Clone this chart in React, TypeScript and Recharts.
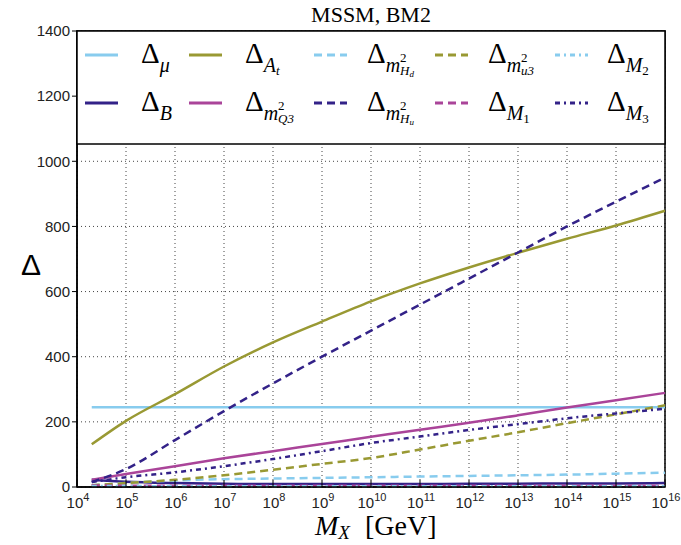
import { LineChart, Line, XAxis, YAxis, CartesianGrid, ReferenceArea } from 'recharts';

// log10(M_X / GeV), first point at 2x10^4
const logMX = [4.301, 5, 6, 7, 8, 9, 10, 11, 12, 13, 14, 15, 16];

const deltaMu = [245, 245, 245, 245, 245, 245, 245, 245, 245, 245, 245, 245, 245];
const deltaB = [22, 16, 12, 10, 9, 9, 9, 9, 10, 10, 11, 11, 12];
const deltaAt = [131, 203, 285, 370, 444, 508, 570, 625, 674, 719, 762, 803, 848];
const deltaQ3 = [22, 40, 64, 88, 110, 132, 154, 176, 197, 220, 244, 266, 289];
const deltaHd = [5, 12, 20, 24, 26, 28, 30, 32, 34, 36, 38, 41, 44];
const deltaHu = [15, 55, 144, 233, 318, 400, 480, 560, 640, 720, 800, 876, 950];
const deltaU3 = [5, 12, 22, 36, 53, 71, 89, 115, 142, 168, 196, 223, 251];
const deltaM1 = [5, 4, 4, 4, 4, 4, 4, 4, 4, 4, 4, 4, 4];
const deltaM2 = [3, 3, 2, 2, 2, 2, 2, 2, 2, 2, 2, 2, 2];
const deltaM3 = [15, 30, 45, 64, 86, 110, 135, 155, 175, 193, 211, 226, 240];

const xTicks = [4, 5, 6, 7, 8, 9, 10, 11, 12, 13, 14, 15, 16];
const yTicks = [0, 200, 400, 600, 800, 1000, 1200, 1400];

const CYAN = '#88CCEE';
const INDIGO = '#332288';
const OLIVE = '#999933';
const PURPLE = '#AA4499';
const DASH = '8 5';
const DASHDOT = '5 4 2 4';

const data = logMX.map((x, i) => ({
  x,
  mu: deltaMu[i],
  B: deltaB[i],
  At: deltaAt[i],
  Q3: deltaQ3[i],
  Hd: deltaHd[i],
  Hu: deltaHu[i],
  u3: deltaU3[i],
  M1: deltaM1[i],
  M2: deltaM2[i],
  M3: deltaM3[i],
}));

const series = [
  { key: 'mu', color: CYAN, dash: undefined },
  { key: 'B', color: INDIGO, dash: undefined },
  { key: 'At', color: OLIVE, dash: undefined },
  { key: 'Q3', color: PURPLE, dash: undefined },
  { key: 'Hd', color: CYAN, dash: DASH },
  { key: 'Hu', color: INDIGO, dash: DASH },
  { key: 'u3', color: OLIVE, dash: DASH },
  { key: 'M1', color: PURPLE, dash: DASH },
  { key: 'M2', color: CYAN, dash: DASHDOT },
  { key: 'M3', color: INDIGO, dash: DASHDOT },
];

const SANS = '"Liberation Sans", Arial, sans-serif';
const SERIF = '"Liberation Serif", "Times New Roman", serif';

function XTick({ x, y, payload }: any) {
  return (
    <g>
      <line x1={x} x2={x} y1={y} y2={y - 7} stroke="#000" />
      <text x={x + 1} y={y + 21} textAnchor="middle" fontFamily={SANS} fontSize={15} fill="#222">
        10
        <tspan dy={-7} fontSize={11}>
          {payload.value}
        </tspan>
      </text>
    </g>
  );
}

// legend labels: Δ followed by italic subscript parts
function simpleSub(main: string, small?: string) {
  return (
    <>
      <tspan dy={9} fontSize={20} fontStyle="italic">{main}</tspan>
      {small ? <tspan dy={3} fontSize={13} fontStyle={/\d/.test(small) ? 'normal' : 'italic'}>{small}</tspan> : null}
    </>
  );
}

function massSub(letter: string, small?: string) {
  return (
    <>
      <tspan dy={9} fontSize={20} fontStyle="italic">m</tspan>
      <tspan dy={-10} fontSize={13}>2</tspan>
      <tspan dx={-6.5} dy={13} fontSize={13} fontStyle="italic">{letter}</tspan>
      {small ? <tspan dy={2} fontSize={9} fontStyle="italic">{small}</tspan> : null}
    </>
  );
}

const legendItems = [
  { color: CYAN, dash: undefined, col: 0, row: 0, sub: simpleSub('μ') },
  { color: INDIGO, dash: undefined, col: 0, row: 1, sub: simpleSub('B') },
  { color: OLIVE, dash: undefined, col: 1, row: 0, sub: simpleSub('A', 't') },
  { color: PURPLE, dash: undefined, col: 1, row: 1, sub: massSub('Q3') },
  { color: CYAN, dash: DASH, col: 2, row: 0, sub: massSub('H', 'd') },
  { color: INDIGO, dash: DASH, col: 2, row: 1, sub: massSub('H', 'u') },
  { color: OLIVE, dash: DASH, col: 3, row: 0, sub: massSub('u3') },
  { color: PURPLE, dash: DASH, col: 3, row: 1, sub: simpleSub('M', '1') },
  { color: CYAN, dash: DASHDOT, col: 4, row: 0, sub: simpleSub('M', '2') },
  { color: INDIGO, dash: DASHDOT, col: 4, row: 1, sub: simpleSub('M', '3') },
];

const colLine = [85, 189, 314, 435, 555];
const colText = [141, 245, 367, 488, 607];
const rowLine = [55, 103];
const rowBase = [63, 111];

export default function App() {
  return (
    <div style={{ position: 'absolute', left: 0, top: 0, width: 681, height: 545, background: '#fff' }}>
      <LineChart width={681} height={545} data={data} margin={{ top: 31, right: 16, bottom: 0, left: 0 }}>
        <CartesianGrid stroke="#444" strokeDasharray="1 3" />
        <XAxis
          dataKey="x"
          type="number"
          domain={[4, 16]}
          ticks={xTicks}
          interval={0}
          height={58}
          tickSize={0}
          tickMargin={0}
          tick={<XTick />}
          axisLine={{ stroke: '#000', strokeWidth: 1.5 }}
        />
        <YAxis
          type="number"
          domain={[0, 1400]}
          ticks={yTicks}
          interval={0}
          width={77}
          tickSize={5}
          tickMargin={2}
          tickLine={{ stroke: '#000' }}
          tick={{ fontFamily: SANS, fontSize: 15, fill: '#222' }}
          axisLine={{ stroke: '#000', strokeWidth: 1.5 }}
        />
        <ReferenceArea x1={4} x2={16} y1={0} y2={1400} fill="none" stroke="#000" strokeWidth={1.5} />
        {series.map((s) => (
          <Line
            key={s.key}
            dataKey={s.key}
            type="monotone"
            stroke={s.color}
            strokeWidth={2.5}
            strokeDasharray={s.dash}
            dot={false}
            isAnimationActive={false}
          />
        ))}
      </LineChart>

      <svg width={681} height={545} style={{ position: 'absolute', left: 0, top: 0 }}>
        {/* title */}
        <text x={371} y={22} textAnchor="middle" fontFamily={SERIF} fontSize={22}>
          MSSM, BM2
        </text>

        {/* y label */}
        <text x={21} y={275} fontFamily={SANS} fontSize={30}>
          Δ
        </text>

        {/* x label */}
        <text x={315} y={535} fontFamily={SERIF} fontSize={28}>
          <tspan fontStyle="italic">M</tspan>
          <tspan dy={4} fontSize={19} fontStyle="italic">X</tspan>
          <tspan x={365} dy={-4}>[GeV]</tspan>
        </text>

        {/* legend box */}
        <rect x={77} y={31} width={588} height={113} fill="#fff" stroke="#000" strokeWidth={1.5} />
        {legendItems.map((it, i) => (
          <g key={i}>
            <line
              x1={colLine[it.col]}
              x2={colLine[it.col] + 33}
              y1={rowLine[it.row]}
              y2={rowLine[it.row]}
              stroke={it.color}
              strokeWidth={3}
              strokeDasharray={it.dash}
            />
            <text x={colText[it.col]} y={rowBase[it.row]} fontFamily={SERIF} fontSize={29} fill="#000">
              Δ{it.sub}
            </text>
          </g>
        ))}
      </svg>
    </div>
  );
}
